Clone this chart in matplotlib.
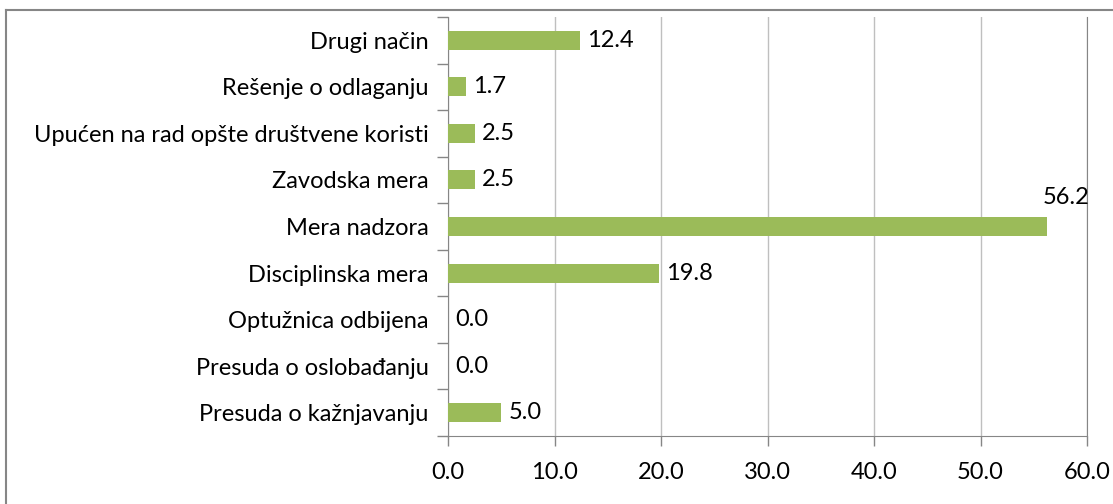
import matplotlib.pyplot as plt
from matplotlib.lines import Line2D

# Data (bottom to top as drawn)
categories = [
    "Presuda o kažnjavanju",
    "Presuda o oslobađanju",
    "Optužnica odbijena",
    "Disciplinska mera",
    "Mera nadzora",
    "Zavodska mera",
    "Upućen na rad opšte društvene koristi",
    "Rešenje o odlaganju",
    "Drugi način",
]
values = [5.0, 0.0, 0.0, 19.8, 56.2, 2.5, 2.5, 1.7, 12.4]
x_ticks = [0, 10, 20, 30, 40, 50, 60]

BAR_COLOR = "#9BBB59"
GRID_COLOR = "#BFBFBF"
AXIS_COLOR = "#868686"
FONT = "Lato"
FS = 17

W, H = 1113, 504
fig = plt.figure(figsize=(W / 100, H / 100), dpi=100)
fig.patch.set_facecolor("white")

# chart border (only top and left edges are visible in the image)
fig.add_artist(Line2D([6 / W, 6 / W], [0, 1 - 10 / H], color=AXIS_COLOR, lw=1.5))
fig.add_artist(Line2D([6 / W, 1], [1 - 10 / H, 1 - 10 / H], color=AXIS_COLOR, lw=1.5))

ax = fig.add_axes([448 / W, 1 - 436 / H, (1087 - 448) / W, (436 - 17) / H])

y_pos = list(range(len(categories)))
ax.barh(y_pos, values, height=0.41, color=BAR_COLOR, zorder=3)

ax.set_xlim(0, 60)
ax.set_ylim(-0.5, len(categories) - 0.5)

ax.set_xticks(x_ticks)
ax.set_xticklabels([f"{t:.1f}" for t in x_ticks], fontsize=FS, family=FONT)
ax.xaxis.grid(True, color=GRID_COLOR, lw=1, zorder=0)
ax.tick_params(axis="x", length=7, width=1, color=AXIS_COLOR, pad=12)

ax.set_yticks(y_pos)
ax.set_yticklabels(categories, fontsize=FS, family=FONT)
ax.set_yticks([i + 0.5 for i in range(-1, len(categories))], minor=True)
ax.tick_params(axis="y", which="major", length=0, pad=14)
ax.tick_params(axis="y", which="minor", length=8, width=1, color=AXIS_COLOR)

ax.spines["top"].set_visible(False)
ax.spines["right"].set_color(AXIS_COLOR)
ax.spines["left"].set_color(AXIS_COLOR)
ax.spines["bottom"].set_color(AXIS_COLOR)

# data labels
for y, v in zip(y_pos, values):
    if v > 50:
        ax.annotate(f"{v:.1f}", (v, y), xytext=(31, 21), textcoords="offset points",
                    ha="right", va="center", fontsize=FS, family=FONT)
    else:
        ax.annotate(f"{v:.1f}", (v, y), xytext=(5, 0), textcoords="offset points",
                    ha="left", va="center", fontsize=FS, family=FONT)

fig.savefig("out.png", dpi=100)
